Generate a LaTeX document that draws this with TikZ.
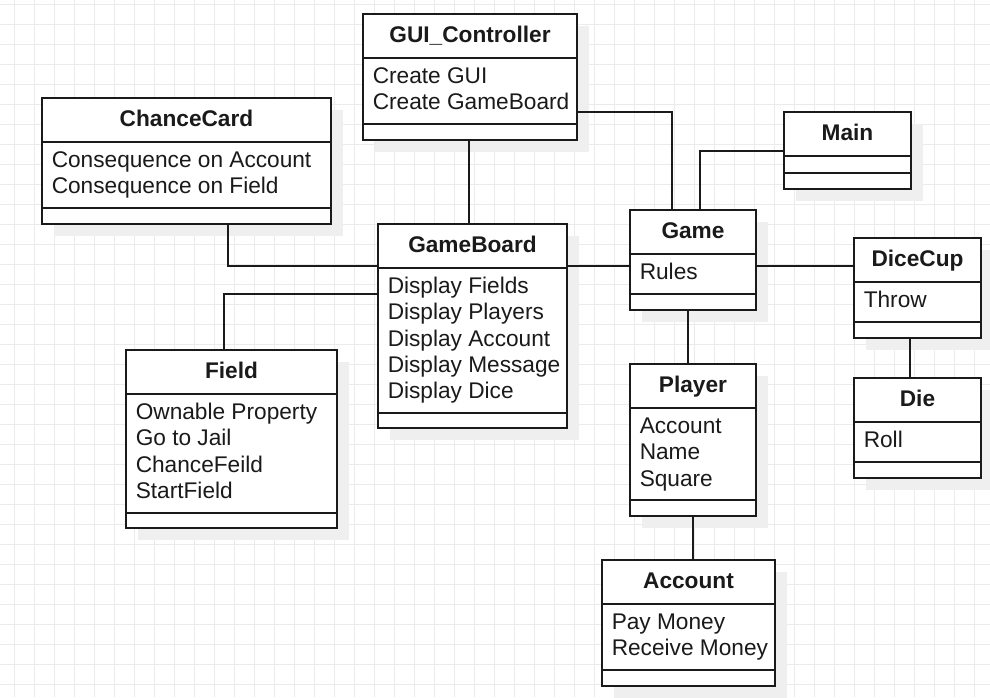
\documentclass[tikz,border=0pt]{standalone}
\usepackage{fontspec}
\setmainfont{Liberation Sans}
\definecolor{gridc}{HTML}{EBEBEB}
\definecolor{shadowc}{HTML}{EFEFEF}
\definecolor{inkc}{HTML}{1A1A1A}
\tikzset{
  classbox/.style={draw=inkc, line width=1.5pt, fill=white, anchor=north west, inner sep=0pt, outer sep=0pt},
  divline/.style={draw=inkc, line width=1.5pt},
  conn/.style={draw=inkc, line width=1.5pt},
  titletext/.style={font=\fontsize{17}{20}\selectfont\bfseries, text=inkc, inner sep=0pt, anchor=base},
  attrtext/.style={font=\fontsize{17}{20}\selectfont, text=inkc, inner sep=0pt, anchor=base west},
  gridline/.style={draw=gridc, line width=0.75pt}
}
% name, x1, y1, x2, y2, divider, lower divider, title
\newcommand\umlclass[8]{%
  \fill[shadowc] (#2+12,#3+12) rectangle (#4+12,#5+12);
  \node[classbox, minimum width={(#4-#2)*0.75pt}, minimum height={(#5-#3)*0.75pt}] (#1) at (#2,#3) {};
  \draw[divline] (#2,#6) -- (#4,#6);
  \draw[divline] (#2,#7) -- (#4,#7);
  \node[titletext] (#1-title) at ({(#2+#4)/2},#3+28.7) {#8};
}
% name, x1, divider, list of lines
\newcommand\umlattrs[4]{%
  \foreach \attrline [count=\ii] in {#4}
    \node[attrtext] (#1-a\ii) at (#2+9.5,{#3+25.3+(\ii-1)*26.4}) {\attrline};
}
\begin{document}
\begin{tikzpicture}[x=0.75pt,y=-0.75pt]
\clip (0,0) rectangle (990,697);
\fill[white] (0,0) rectangle (990,697);
\foreach \gx in {14,34,...,994} \draw[gridline] (\gx,0) -- (\gx,697);
\foreach \gy in {4,24,...,704} \draw[gridline] (0,\gy) -- (990,\gy);

\umlclass{gui}{363}{14}{577}{140}{58}{124}{GUI\_Controller}
\umlattrs{gui}{363}{58}{Create GUI,Create GameBoard}

\umlclass{cc}{42}{98}{331}{224}{142}{208}{ChanceCard}
\umlattrs{cc}{42}{142}{Consequence on Account,Consequence on Field}

\umlclass{field}{126}{350}{337}{528}{394}{513}{Field}
\umlattrs{field}{126}{394}{Ownable Property,Go to Jail,ChanceFeild,StartField}

\umlclass{gb}{378}{224}{567}{428}{268}{413}{GameBoard}
\umlattrs{gb}{378}{268}{Display Fields,Display Players,Display Account,Display Message,Display Dice}

\umlclass{main}{784}{112}{911}{189}{156}{173}{Main}

\umlclass{game}{630}{210}{756}{310}{254}{294}{Game}
\umlattrs{game}{630}{254}{Rules}

\umlclass{dc}{854}{238}{981}{338}{282}{322}{DiceCup}
\umlattrs{dc}{854}{282}{Throw}

\umlclass{die}{854}{378}{981}{478}{422}{462}{Die}
\umlattrs{die}{854}{422}{Roll}

\umlclass{player}{630}{364}{756}{516}{408}{500}{Player}
\umlattrs{player}{630}{408}{Account,Name,Square}

\umlclass{acct}{602}{560}{775}{686}{604}{670}{Account}
\umlattrs{acct}{602}{604}{Pay Money,Receive Money}

% connectors
\draw[conn] ([shift={(-1,0)}]gui.south) -- ([shift={(-1,0)}]gui.south |- gb.north);
\draw[conn] ([shift={(0,35)}]gui.east) -| ([shift={(-21,0)}]game.north);
\draw[conn] (main.west) -| ([shift={(7,0)}]game.north);
\draw[conn] ([shift={(41.5,0)}]cc.south) |- ([shift={(0,-60)}]gb.west);
\draw[conn] ([shift={(-7.5,0)}]field.north) |- ([shift={(0,-32)}]gb.west);
\draw[conn] ([shift={(0,-60)}]gb.east) -- ([shift={(0,6)}]game.west);
\draw[conn] ([shift={(0,6)}]game.east) -- ([shift={(0,-22)}]dc.west);
\draw[conn] ([shift={(-5,0)}]game.south) -- ([shift={(-5,0)}]player.north);
\draw[conn] ([shift={(-7.5,0)}]dc.south) -- ([shift={(-7.5,0)}]die.north);
\draw[conn] (player.south) -- (player.south |- acct.north);
\end{tikzpicture}
\end{document}
